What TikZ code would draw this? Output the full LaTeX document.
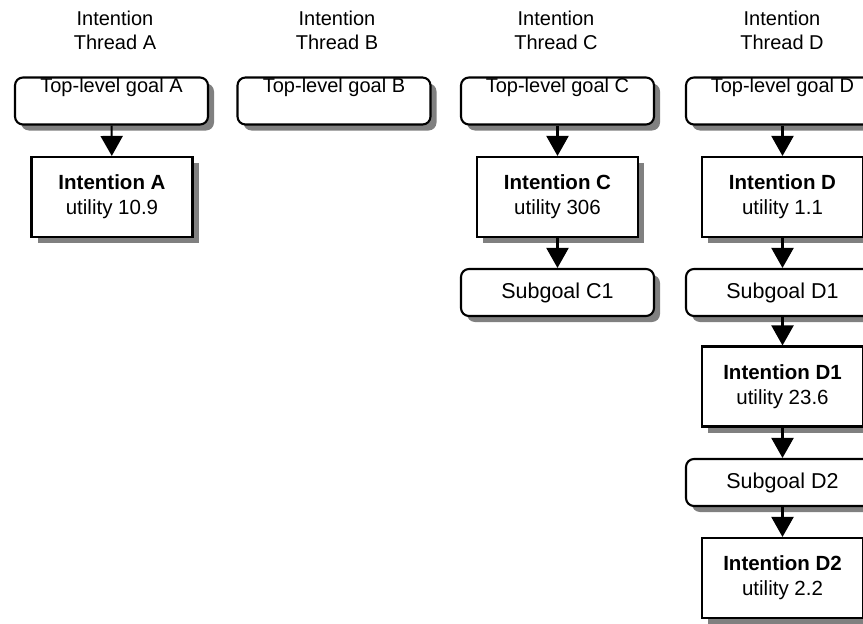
\documentclass[tikz,border=0pt]{standalone}
\usepackage{fontspec}
\setmainfont{Liberation Sans}
\usetikzlibrary{shadows,arrows.meta}
\begin{document}
\begin{tikzpicture}[x=1pt,y=-1pt,
  every node/.style={font=\fontsize{20.5}{25}\selectfont},
  boxshadow/.style={drop shadow={shadow xshift=6pt,shadow yshift=-6pt,fill=black!50,opacity=1}},
  goalbox/.style={draw,line width=2.1pt,rounded corners=8pt,fill=white,boxshadow,
    minimum width=193pt,minimum height=47pt,inner sep=0pt,font=\fontsize{21.5}{25}\selectfont},
  intbox/.style={draw,line width=2.1pt,fill=white,boxshadow,align=center,
    minimum width=161pt,minimum height=80pt,inner sep=0pt},
  goaltext/.style={anchor=north,inner sep=1pt,font=\fontsize{20}{24}\selectfont},
  title/.style={align=center,font=\fontsize{20}{24}\selectfont},
  link/.style={line width=2.1pt,-{Triangle[width=22pt,length=20pt]}}]
\useasboundingbox (0,0) rectangle (863,624);

% column headings
\node[title] (hA) at (115,30) {Intention\\Thread A};
\node[title] (hB) at (337,30) {Intention\\Thread B};
\node[title] (hC) at (556,30) {Intention\\Thread C};
\node[title] (hD) at (782,30) {Intention\\Thread D};

% thread A
\node[goalbox] (tA) at (111.5,101) {};
\node[goaltext] (tAt) at (tA.north) {Top-level goal A};
\node[intbox] (iA) at (112,197) {\textbf{Intention A}\\utility 10.9};
\draw[link] (tA) -- (iA);

% thread B
\node[goalbox] (tB) at (334,101) {};
\node[goaltext] (tBt) at (tB.north) {Top-level goal B};

% thread C
\node[goalbox] (tC) at (557.5,101) {};
\node[goaltext] (tCt) at (tC.north) {Top-level goal C};
\node[intbox] (iC) at (557.5,197) {\textbf{Intention C}\\utility 306};
\node[goalbox] (sC1) at (557.5,292.5) {Subgoal C1};
\draw[link] (tC) -- (iC);
\draw[link] (iC) -- (sC1);

% thread D
\node[goalbox] (tD) at (782.5,101) {};
\node[goaltext] (tDt) at (tD.north) {Top-level goal D};
\node[intbox] (iD) at (782.5,197) {\textbf{Intention D}\\utility 1.1};
\node[goalbox] (sD1) at (782.5,292.5) {Subgoal D1};
\node[intbox] (iD1) at (782.5,386.5) {\textbf{Intention D1}\\utility 23.6};
\node[goalbox] (sD2) at (782.5,482.5) {Subgoal D2};
\node[intbox] (iD2) at (782.5,578) {\textbf{Intention D2}\\utility 2.2};
\draw[link] (tD) -- (iD);
\draw[link] (iD) -- (sD1);
\draw[link] (sD1) -- (iD1);
\draw[link] (iD1) -- (sD2);
\draw[link] (sD2) -- (iD2);
\end{tikzpicture}
\end{document}
